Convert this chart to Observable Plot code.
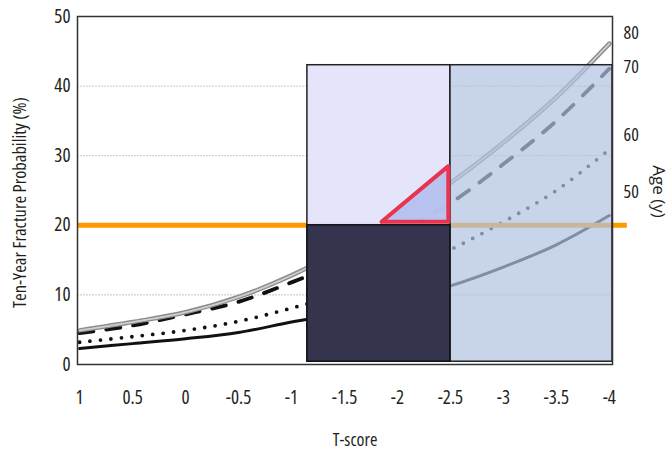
<!DOCTYPE html>
<html>
<head>
<meta charset="utf-8">
<script src="https://cdn.jsdelivr.net/npm/d3@7"></script>
<script src="https://cdn.jsdelivr.net/npm/@observablehq/plot@0.6"></script>
<style>
  html, body { margin: 0; padding: 0; background: #fff; }
  svg text { font-stretch: 75%; }
  svg .title text { font-stretch: 87.5%; }
  svg .agetitle text { font-stretch: 100%; }
</style>
</head>
<body>
<div id="chart"></div>
<script>
// T-score positions where curves were read
const tScores = [1, 0.5, 0, -0.5, -1, -1.5, -2, -2.5, -3, -3.5, -4];
// Ten-year fracture probability (%) per age
const age50 = [2.3, 3.0, 3.7, 4.6, 6.1, 7.5, 9.3, 11.3, 14.0, 17.2, 21.4];
const age60 = [3.2, 4.0, 4.9, 6.2, 8.1, 10.3, 13.1, 16.5, 20.5, 25.0, 30.9];
const age70 = [4.5, 5.6, 7.2, 9.0, 11.8, 15.0, 19.0, 23.2, 28.8, 35.0, 42.5];
const age80 = [4.9, 6.1, 7.5, 9.7, 12.8, 16.7, 21.5, 26.1, 31.9, 38.4, 46.1];

const xTicks = [1, 0.5, 0, -0.5, -1, -1.5, -2, -2.5, -3, -3.5, -4];
const yTicks = [0, 10, 20, 30, 40, 50];
const gridValues = [10, 20, 30, 40];

// zone boundaries (T-score) and height (%)
const zoneEdges = [-1.15, -2.5, -4.03];
const zoneBottom = 0.4;
const zoneTop = 43;
const threshold = 20;
const thresholdExtent = [1.02, -4.17];

// highlighted triangle
const triangle = [
  {x: -1.85, y: 20.5},
  {x: -2.48, y: 20.5},
  {x: -2.48, y: 28.5},
  {x: -1.85, y: 20.5}
];

// age labels on the right
const ageLabels = ["80", "70", "60", "50"];
const ageLabelY = [47.6, 42.7, 32.9, 24.7];

const series = (vals) => tScores.map((t, i) => ({t, p: vals[i]}));
const s50 = series(age50), s60 = series(age60), s70 = series(age70), s80 = series(age80);
const labels = ageLabels.map((a, i) => ({a, y: ageLabelY[i]}));

const curve = "catmull-rom";
const chart = Plot.plot({
  width: 672,
  height: 450,
  marginLeft: 77,
  marginRight: 60,
  marginTop: 16,
  marginBottom: 86,
  style: {fontFamily: "'Open Sans', 'Liberation Sans', sans-serif", fontSize: "19px", color: "#231f20", background: "#fff"},
  x: {domain: [1.02, -4.03]},
  y: {domain: [0, 50]},
  marks: [
    Plot.gridY(gridValues, {stroke: "#c8c8c8", strokeOpacity: 1, strokeDasharray: "2,1"}),
    // curves
    Plot.line(s50, {x: "t", y: "p", curve, stroke: "#111", strokeWidth: 3}),
    Plot.line(s60, {x: "t", y: "p", curve, stroke: "#111", strokeWidth: 3.8, strokeDasharray: "0,10.5", strokeLinecap: "round"}),
    Plot.line(s70, {x: "t", y: "p", curve, stroke: "#111", strokeWidth: 3.8, strokeDasharray: "14,13"}),
    Plot.line(s80, {x: "t", y: "p", curve, stroke: "#8c8c8c", strokeWidth: 4.5}),
    Plot.line(s80, {x: "t", y: "p", curve, stroke: "#d0d0d0", strokeWidth: 1.8, strokeDasharray: "1.2,1.2"}),
    // threshold line
    Plot.ruleY([threshold], {x1: thresholdExtent[0], x2: thresholdExtent[1], stroke: "#ff9900", strokeWidth: 5}),
    // zones
    Plot.rect([0], {x1: zoneEdges[0], x2: zoneEdges[1], y1: zoneBottom, y2: zoneTop, fill: "#e2e2fb", fillOpacity: 0.93, stroke: "#222", strokeWidth: 1.5}),
    Plot.rect([0], {x1: zoneEdges[1], x2: zoneEdges[2], y1: zoneBottom, y2: zoneTop, fill: "#b0c2e1", fillOpacity: 0.7, stroke: "#222", strokeWidth: 1.5}),
    Plot.rect([0], {x1: zoneEdges[0], x2: zoneEdges[1], y1: zoneBottom, y2: threshold, fill: "#34344e", stroke: "#111", strokeWidth: 1.5}),
    // triangle
    Plot.line(triangle, {x: "x", y: "y", fill: "#aab8ec", fillOpacity: 0.75, stroke: "#e8344e", strokeWidth: 4, strokeLinejoin: "round"}),
    Plot.frame({stroke: "#333", strokeWidth: 1.5}),
    Plot.axisX(xTicks, {tickSize: 0, tickPadding: 26, label: null, tickFormat: d => String(d), fontSize: 19}),
    Plot.axisY(yTicks, {tickSize: 0, tickPadding: 7, label: null, tickFormat: d => String(d), fontSize: 19}),
    // axis titles
    Plot.text(["T-score"], {frameAnchor: "bottom", dx: 10, dy: 81, fontSize: 18, className: "title"}),
    Plot.text(["Ten-Year Fracture Probability (%)"], {frameAnchor: "left", textAnchor: "middle", dx: -57, dy: 12, rotate: -90, fontSize: 18.5, className: "title"}),
    Plot.text(["Age (y)"], {frameAnchor: "right", textAnchor: "middle", dx: 46, dy: 1, rotate: 90, fontSize: 17, className: "agetitle"}),
    Plot.text(labels, {x: zoneEdges[2], y: "y", text: "a", dx: 11, textAnchor: "start", fontSize: 18})
  ]
});
document.getElementById("chart").appendChild(chart);
</script>
</body>
</html>
